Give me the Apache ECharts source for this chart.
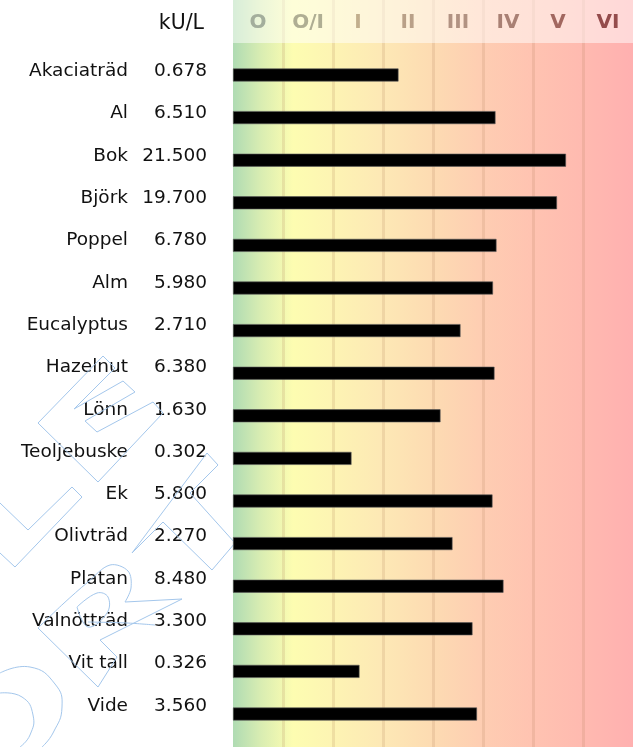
<!DOCTYPE html>
<html>
<head>
<meta charset="utf-8">
<script src="https://cdn.jsdelivr.net/npm/echarts@6/dist/echarts.min.js"></script>
<style>
  html, body { margin: 0; padding: 0; background: #ffffff; }
  #chart { width: 638px; height: 747px; }
</style>
</head>
<body>
<div id="chart"></div>
<script>
// ---- data ----
const classes = ['O', 'O/I', 'I', 'II', 'III', 'IV', 'V', 'VI'];
const classColors = ['#a3ae9c', '#afae93', '#c2ae8d', '#b9a088', '#b19282', '#a98074', '#a2675f', '#944c4c'];
const allergens = ['Akaciaträd', 'Al', 'Bok', 'Björk', 'Poppel', 'Alm', 'Eucalyptus', 'Hazelnut',
  'Lönn', 'Teoljebuske', 'Ek', 'Olivträd', 'Platan', 'Valnötträd', 'Vit tall', 'Vide'];
const kuL = [0.678, 6.510, 21.500, 19.700, 6.780, 5.980, 2.710, 6.380,
  1.630, 0.302, 5.800, 2.270, 8.480, 3.300, 0.326, 3.560];
// bar length, in class-column units (0..8)
const classLevel = [3.31, 5.25, 6.66, 6.48, 5.27, 5.20, 4.55, 5.23,
  4.15, 2.37, 5.19, 4.39, 5.41, 4.79, 2.53, 4.88];
const unitLabel = 'kU/L';

const chart = echarts.init(document.getElementById('chart'));
const FONT = 'DejaVu Sans';
const wm = { stroke: '#a4c7ec', lineWidth: 1, fill: 'none' };
const hiddenCat = { axisLine: { show: false }, axisTick: { show: false }, splitLine: { show: false } };

const option = {
  animation: false,
  backgroundColor: '#ffffff',
  textStyle: { fontFamily: FONT },
  title: {
    text: unitLabel,
    right: 429,
    top: 8,
    textStyle: { fontFamily: FONT, fontSize: 20.5, fontWeight: 'normal', color: '#111' }
  },
  grid: [
    {
      left: 233, right: 5, top: 0, bottom: 0, show: true, borderWidth: 0,
      backgroundColor: {
        type: 'linear', x: 0, y: 0, x2: 1, y2: 0,
        colorStops: [
          { offset: 0, color: '#afdbb3' },
          { offset: 0.07, color: '#d9edb2' },
          { offset: 0.15, color: '#fdfdb1' },
          { offset: 0.25, color: '#fdf4b3' },
          { offset: 0.375, color: '#fde8b5' },
          { offset: 0.5, color: '#fddbb2' },
          { offset: 0.625, color: '#fecdb2' },
          { offset: 0.75, color: '#ffc3b1' },
          { offset: 0.875, color: '#ffbab0' },
          { offset: 1, color: '#ffb0b0' }
        ]
      }
    },
    { left: 233, right: 5, top: 53.7, height: 681.6 },
    { left: 233, right: 5, top: 50.2, height: 676.8 }
  ],
  xAxis: [
    {
      gridIndex: 0, type: 'value', min: 0, max: 8, interval: 1,
      axisLine: { show: false }, axisTick: { show: false }, axisLabel: { show: false },
      splitLine: { show: true, showMinLine: false, showMaxLine: false,
        lineStyle: { color: 'rgba(175,130,90,0.18)', width: 3 } }
    },
    {
      gridIndex: 0, type: 'category', position: 'top', data: classes, z: 10,
      axisLine: { show: false }, axisTick: { show: false }, splitLine: { show: false },
      axisLabel: {
        inside: true, margin: 23, verticalAlign: 'middle',
        fontFamily: FONT, fontSize: 20, fontWeight: 'bold',
        color: function (v, i) { return classColors[i]; }
      }
    },
    { gridIndex: 1, type: 'value', min: 0, max: 8, show: false },
    { gridIndex: 2, type: 'value', min: 0, max: 8, show: false }
  ],
  yAxis: [
    { gridIndex: 0, type: 'value', show: false },
    { gridIndex: 1, type: 'category', inverse: true, data: allergens, show: false },
    Object.assign({
      gridIndex: 2, type: 'category', inverse: true,
      data: kuL.map(v => v.toFixed(3)),
      axisLabel: { margin: 26, fontFamily: FONT, fontSize: 18.5, color: '#111' }
    }, hiddenCat),
    Object.assign({
      gridIndex: 2, type: 'category', inverse: true, position: 'left', offset: 79,
      data: allergens,
      axisLabel: { margin: 26, fontFamily: FONT, fontSize: 18.5, color: '#111' }
    }, hiddenCat)
  ],
  series: [
    {
      type: 'bar', xAxisIndex: 2, yAxisIndex: 1,
      data: classLevel, barWidth: 13,
      itemStyle: { color: '#000000', borderColor: '#5a5a5a', borderWidth: 0.6 },
      silent: true
    }
  ],
  graphic: {
    elements: [
      { type: 'rect', z: 5, silent: true,
        shape: { x: 233, y: 0, width: 400, height: 43 },
        style: { fill: 'rgba(255,255,255,0.5)' } },
      // watermark outlines (decoration)
      { type: 'polygon', z: 1, silent: true, style: wm,
        shape: { points: [[38,423],[103,356],[115,368],[74,409],[123,381],[135,392],[85,421],[97,432],[153,402],[163,413],[98,482]] } },
      { type: 'polyline', z: 1, silent: true, style: wm,
        shape: { points: [[0,503],[28,530],[72,487],[82,497],[15,567],[0,553]] } },
      { type: 'polygon', z: 1, silent: true, style: wm,
        shape: { points: [[132,553],[207,453],[218,465],[190,493],[235,543],[212,570],[163,522]] } },
      { type: 'polyline', z: 1, silent: true, style: wm,
        shape: { smooth: 0.35, points: [[38,628],[63,604],[88,582],[110,565],[128,571],[131,588],[125,602]] } },
      { type: 'polyline', z: 1, silent: true, style: wm,
        shape: { points: [[125,602],[182,599],[100,640],[117,657],[98,687],[38,628]] } },
      { type: 'polyline', z: 1, silent: true, style: wm,
        shape: { smooth: 0.4, points: [[77,607],[97,593],[108,597],[107,613],[88,627],[77,607]] } },
      { type: 'polyline', z: 1, silent: true, style: wm,
        shape: { smooth: 0.3, points: [[88,622],[127,623],[155,625]] } },
      { type: 'polyline', z: 1, silent: true, style: wm,
        shape: { smooth: 0.5, points: [[0,673],[30,667],[55,684],[62,707],[53,733],[42,747]] } },
      { type: 'polyline', z: 1, silent: true, style: wm,
        shape: { smooth: 0.5, points: [[0,693],[22,697],[33,715],[30,735],[20,747]] } }
    ]
  }
};

chart.setOption(option);
</script>
</body>
</html>
